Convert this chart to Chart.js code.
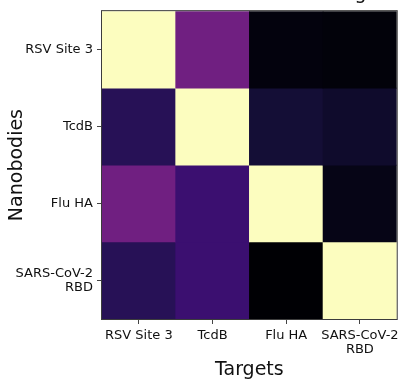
<!DOCTYPE html>
<html>
<head>
<meta charset="utf-8">
<script src="https://cdn.jsdelivr.net/npm/chart.js@4"></script>
<style>
  html, body { margin: 0; padding: 0; background: #ffffff; }
  #wrap { width: 404px; height: 383px; }
</style>
</head>
<body>
<div id="wrap"><canvas id="c" width="404" height="383"></canvas></div>
<script>
// Targets along the x axis, nanobodies down the y axis (top to bottom)
const targets = ['RSV Site 3', 'TcdB', 'Flu HA', 'SARS-CoV-2 RBD'];
const nanobodies = ['RSV Site 3', 'TcdB', 'Flu HA', 'SARS-CoV-2 RBD'];
const targetTicks = ['RSV Site 3', 'TcdB', 'Flu HA', ['SARS-CoV-2', 'RBD']];
const nanobodyTicks = ['RSV Site 3', 'TcdB', 'Flu HA', ['SARS-CoV-2', 'RBD']];

// Normalised binding signal per nanobody (one row each), columns follow `targets`
const rsvSite3Binding = [1.00, 0.33, 0.015, 0.01];
const tcdbBinding     = [0.16, 1.00, 0.10, 0.075];
const fluHaBinding    = [0.33, 0.20, 1.00, 0.03];
const sarsCov2Binding = [0.16, 0.20, 0.00, 1.00];
const bindingRows = [rsvSite3Binding, tcdbBinding, fluHaBinding, sarsCov2Binding];

const chartTitle = 'Cross-Reactive Binding';

// magma colormap stops
const magmaStops = [
  [0.00, [0, 0, 4]], [0.05, [10, 8, 34]], [0.10, [20, 14, 54]], [0.15, [34, 17, 80]],
  [0.20, [59, 15, 112]], [0.25, [81, 18, 124]], [0.30, [100, 26, 128]], [0.35, [120, 34, 129]],
  [0.40, [140, 41, 129]], [0.50, [183, 55, 121]], [0.60, [222, 73, 104]], [0.70, [247, 112, 92]],
  [0.80, [254, 159, 109]], [0.90, [254, 207, 146]], [1.00, [252, 253, 191]]
];
function magma(v) {
  v = Math.max(0, Math.min(1, v));
  for (let i = 1; i < magmaStops.length; i++) {
    const [p1, c1] = magmaStops[i];
    const [p0, c0] = magmaStops[i - 1];
    if (v <= p1) {
      const f = (v - p0) / (p1 - p0);
      const c = c0.map((x, k) => Math.round(x + (c1[k] - x) * f));
      return `rgb(${c[0]},${c[1]},${c[2]})`;
    }
  }
  return 'rgb(252,253,191)';
}

const FONT = 'DejaVu Sans';
const n = nanobodies.length;

// each nanobody row is a band of floating bars [n-1-i, n-i]
const datasets = bindingRows.map((row, i) => ({
  label: nanobodies[i],
  data: row.map(() => [n - 1 - i, n - i]),
  backgroundColor: row.map(v => magma(v)),
  borderWidth: 0,
  borderSkipped: false,
  barPercentage: 1.0,
  categoryPercentage: 1.0,
  grouped: false
}));

const framePlugin = {
  id: 'frame',
  afterDraw(chart) {
    const { ctx, chartArea: a } = chart;
    ctx.save();
    ctx.strokeStyle = '#3c3c3c';
    ctx.lineWidth = 1;
    ctx.strokeRect(a.left - 0.5, a.top - 0.5, a.right - a.left + 1, a.bottom - a.top + 1);
    ctx.fillStyle = '#111111';
    ctx.font = `19px "${FONT}"`;
    ctx.textAlign = 'center';
    ctx.textBaseline = 'alphabetic';
    ctx.fillText(chartTitle, (a.left + a.right) / 2 + 8, -1);
    ctx.restore();
  }
};

new Chart(document.getElementById('c'), {
  type: 'bar',
  data: { labels: targets, datasets },
  options: {
    responsive: false,
    animation: false,
    layout: { padding: { top: 9, right: 3, left: 0, bottom: 0 } },
    plugins: { legend: { display: false }, tooltip: { enabled: false } },
    scales: {
      x: {
        type: 'category',
        grid: { display: true, drawOnChartArea: false, offset: false, tickLength: 5, tickColor: '#444', tickWidth: 1 },
        border: { display: false },
        ticks: {
          font: { family: FONT, size: 13, lineHeight: 1.05 }, color: '#111', padding: 5,
          maxRotation: 0, autoSkip: false,
          callback: (v, i) => targetTicks[i]
        },
        title: { display: true, text: 'Targets', font: { family: FONT, size: 19 }, color: '#111', padding: { top: 0, bottom: 2 } },
        afterFit(scale) { scale.height = 64; }
      },
      y: {
        type: 'linear', min: 0, max: n,
        grid: { display: true, drawOnChartArea: false, tickLength: 5, tickColor: '#444', tickWidth: 1 },
        border: { display: false },
        afterBuildTicks(scale) {
          scale.ticks = nanobodies.map((_, i) => ({ value: i + 0.5 }));
        },
        ticks: {
          font: { family: FONT, size: 13, lineHeight: 1.1 }, color: '#111', padding: 4,
          callback: v => nanobodyTicks[n - 1 - Math.floor(v)]
        },
        title: { display: true, text: 'Nanobodies', font: { family: FONT, size: 19 }, color: '#111', padding: { top: 6, bottom: 0 } },
        afterFit(scale) { scale.width = 102; }
      }
    }
  },
  plugins: [framePlugin]
});
</script>
</body>
</html>
